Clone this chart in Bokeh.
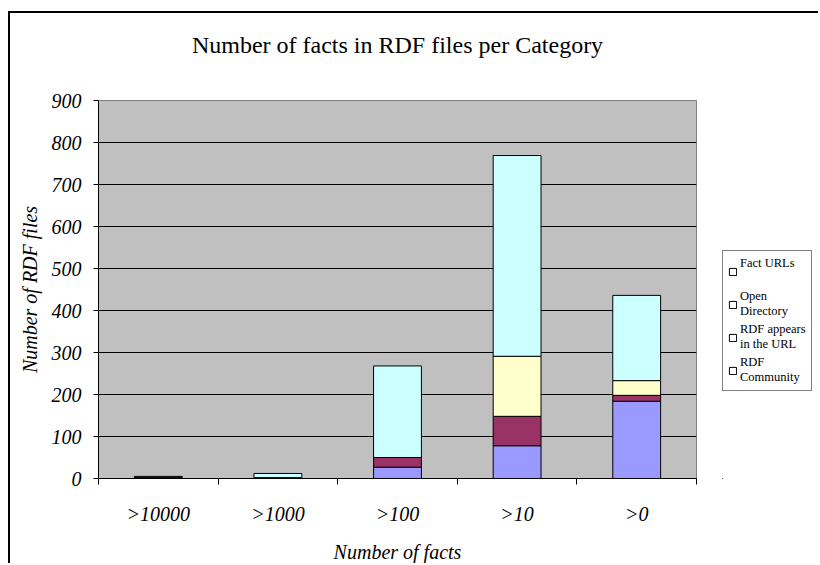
from bokeh.plotting import figure
from bokeh.layouts import row
from bokeh.models import (ColumnDataSource, FixedTicker, Legend, LegendItem, Range1d, Title)
from bokeh.embed import file_html
from bokeh.resources import INLINE

categories = [">10000", ">1000", ">100", ">10", ">0"]
rdf_community = [1, 1, 27, 78, 184]
rdf_in_url = [1, 1, 23, 70, 14]
open_directory = [1, 0, 0, 143, 35]
fact_urls = [2, 10, 218, 478, 203]

legend_labels = ["Fact URLs\n ", "Open\nDirectory", "RDF appears\nin the URL", "RDF\nCommunity"]
colors = ["#9999FF", "#993366", "#FFFFCC", "#CCFFFF"]
y_ticks = [0, 100, 200, 300, 400, 500, 600, 700, 800, 900]
chart_title = "Number of facts in RDF files per Category"

FONT = "Liberation Serif"

xpos = [i + 0.5 for i in range(len(categories))]
data = {"x": xpos, "s0": rdf_community, "s1": rdf_in_url, "s2": open_directory, "s3": fact_urls}
source = ColumnDataSource(data)

# ---------------- main chart ----------------
p = figure(width=714, height=552, output_backend="svg", toolbar_location=None, title=None,
           x_range=Range1d(0, len(categories)), y_range=Range1d(0, 900),
           min_border_left=88, min_border_right=28, min_border_top=87, min_border_bottom=76)
p.styles = {"margin-left": "8px", "margin-top": "11px",
            "border-left": "2px solid black", "border-top": "2px solid black"}

p.background_fill_color = "#C0C0C0"
p.border_fill_color = "white"
p.outline_line_color = "#808080"
p.outline_line_width = 1

p.vbar_stack(["s0", "s1", "s2", "s3"], x="x", width=0.4, source=source,
             fill_color=colors, line_color="black", line_width=1)

# spacer (closest to the frame) and then the real title above it
p.add_layout(Title(text=" ", text_font=FONT, text_font_size="20px", standoff=14), "above")
p.add_layout(Title(text=chart_title, text_font=FONT, text_font_size="24px",
                   text_font_style="normal", text_color="black", align="center",
                   standoff=10), "above")

p.xgrid.visible = False
p.ygrid.ticker = FixedTicker(ticks=y_ticks)
p.ygrid.grid_line_color = "black"
p.ygrid.grid_line_width = 1

p.yaxis.ticker = FixedTicker(ticks=y_ticks)
p.yaxis.axis_label = "Number of RDF files"
p.yaxis.axis_label_text_font = FONT
p.yaxis.axis_label_text_font_size = "20px"
p.yaxis.axis_label_text_font_style = "italic"
p.yaxis.axis_label_text_color = "black"
p.yaxis.axis_label_standoff = 8
p.yaxis.major_label_text_font = FONT
p.yaxis.major_label_text_font_size = "20px"
p.yaxis.major_label_text_font_style = "italic"
p.yaxis.major_label_text_color = "black"
p.yaxis.major_tick_out = 5
p.yaxis.major_tick_in = 0
p.yaxis.minor_tick_out = 0
p.yaxis.minor_tick_in = 0
p.yaxis.major_label_standoff = 12
p.yaxis.axis_line_color = "black"
p.yaxis.major_tick_line_color = "black"

p.xaxis.ticker = FixedTicker(ticks=xpos, minor_ticks=list(range(len(categories) + 1)))
p.xaxis.major_label_overrides = {x: c for x, c in zip(xpos, categories)}
p.xaxis.major_tick_out = 0
p.xaxis.major_tick_in = 0
p.xaxis.minor_tick_out = 6
p.xaxis.minor_tick_in = 0
p.xaxis.minor_tick_line_color = "black"
p.xaxis.major_label_standoff = 18
p.xaxis.major_label_text_font = FONT
p.xaxis.major_label_text_font_size = "20px"
p.xaxis.major_label_text_font_style = "italic"
p.xaxis.major_label_text_color = "black"
p.xaxis.axis_label = "Number of facts"
p.xaxis.axis_label_text_font = FONT
p.xaxis.axis_label_text_font_size = "20px"
p.xaxis.axis_label_text_font_style = "italic"
p.xaxis.axis_label_text_color = "black"
p.xaxis.axis_label_standoff = 13
p.xaxis.axis_line_color = "black"

# ---------------- legend panel ----------------
lf = figure(width=96, height=552, output_backend="svg", toolbar_location=None,
            x_range=Range1d(0, 1), y_range=Range1d(0, 1),
            x_axis_type=None, y_axis_type=None,
            min_border_left=0, min_border_right=0, min_border_top=0, min_border_bottom=0)
lf.styles = {"margin-top": "11px", "border-top": "2px solid black"}
lf.outline_line_color = None
lf.background_fill_color = "white"
lf.border_fill_color = "white"
lf.xgrid.visible = False
lf.ygrid.visible = False

hidden = ColumnDataSource({"x": [-10], "top": [-10]})
dummies = [lf.vbar(x="x", top="top", width=0.1, source=hidden,
                   fill_color="white", line_color="black", line_width=1)
           for _ in legend_labels]
items = [LegendItem(label=lab, renderers=[r]) for lab, r in zip(legend_labels, dummies)]
legend = Legend(items=items, location=(0, 87), orientation="vertical")
legend.label_text_font = FONT
legend.label_text_font_size = "12.5px"
legend.label_text_color = "black"
legend.glyph_width = 9
legend.glyph_height = 9
legend.label_standoff = 3
legend.spacing = 3
legend.padding = 5
legend.margin = 0
legend.border_line_color = "black"
legend.border_line_width = 1
legend.background_fill_color = "white"
legend.background_fill_alpha = 1
lf.add_layout(legend, "center")

layout = row(p, lf)
open("out.html", "w").write(file_html(layout, INLINE))
